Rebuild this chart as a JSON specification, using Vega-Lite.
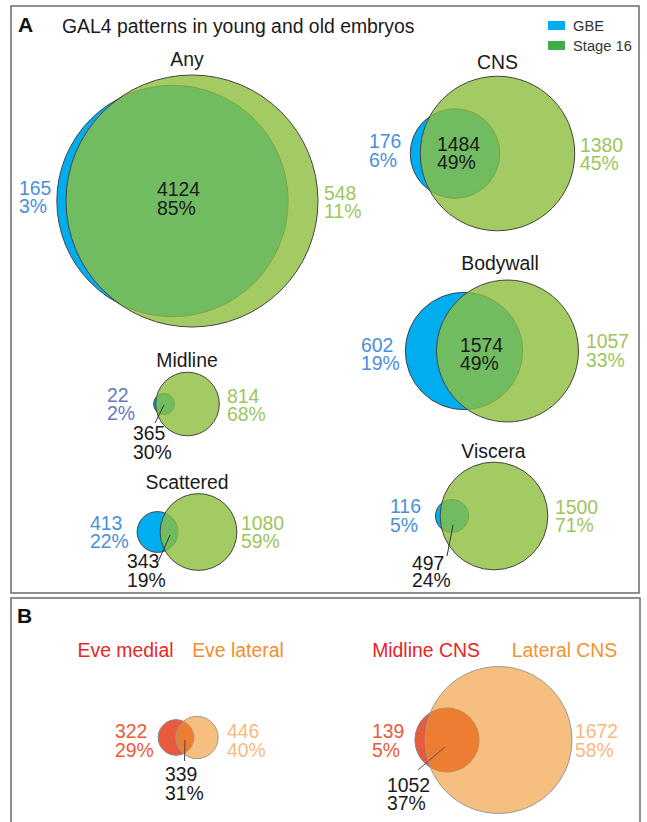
{
"$schema": "https://vega.github.io/schema/vega-lite/v6.json",
"width": 647, "height": 822, "padding": 0, "autosize": {"type": "none"},
"background": "#ffffff",
"config": {"view": {"stroke": null}, "text": {"font": "Liberation Sans", "fontSize": 19.4, "baseline": "alphabetic", "align": "left"}},
"datasets": {
"venn": [
{"panel":"Any","region":"left","set":"GBE","count":165,"pct":0.03,"total":4289},
{"panel":"Any","region":"both","set":"GBE and Stage 16","count":4124,"pct":0.85},
{"panel":"Any","region":"right","set":"Stage 16","count":548,"pct":0.11,"total":4672},
{"panel":"CNS","region":"left","set":"GBE","count":176,"pct":0.06,"total":1660},
{"panel":"CNS","region":"both","set":"GBE and Stage 16","count":1484,"pct":0.49},
{"panel":"CNS","region":"right","set":"Stage 16","count":1380,"pct":0.45,"total":2864},
{"panel":"Bodywall","region":"left","set":"GBE","count":602,"pct":0.19,"total":2176},
{"panel":"Bodywall","region":"both","set":"GBE and Stage 16","count":1574,"pct":0.49},
{"panel":"Bodywall","region":"right","set":"Stage 16","count":1057,"pct":0.33,"total":2631},
{"panel":"Midline","region":"left","set":"GBE","count":22,"pct":0.02,"total":387},
{"panel":"Midline","region":"both","set":"GBE and Stage 16","count":365,"pct":0.30},
{"panel":"Midline","region":"right","set":"Stage 16","count":814,"pct":0.68,"total":1179},
{"panel":"Viscera","region":"left","set":"GBE","count":116,"pct":0.05,"total":613},
{"panel":"Viscera","region":"both","set":"GBE and Stage 16","count":497,"pct":0.24},
{"panel":"Viscera","region":"right","set":"Stage 16","count":1500,"pct":0.71,"total":1997},
{"panel":"Scattered","region":"left","set":"GBE","count":413,"pct":0.22,"total":756},
{"panel":"Scattered","region":"both","set":"GBE and Stage 16","count":343,"pct":0.19},
{"panel":"Scattered","region":"right","set":"Stage 16","count":1080,"pct":0.59,"total":1423},
{"panel":"Eve","region":"left","set":"Eve medial","count":322,"pct":0.29,"total":661},
{"panel":"Eve","region":"both","set":"Eve medial and lateral","count":339,"pct":0.31},
{"panel":"Eve","region":"right","set":"Eve lateral","count":446,"pct":0.40,"total":785},
{"panel":"CNS subsets","region":"left","set":"Midline CNS","count":139,"pct":0.05,"total":1191},
{"panel":"CNS subsets","region":"both","set":"Midline and Lateral CNS","count":1052,"pct":0.37},
{"panel":"CNS subsets","region":"right","set":"Lateral CNS","count":1672,"pct":0.58,"total":2724}
],
"panels": [{"panel":"A","title":"GAL4 patterns in young and old embryos"},{"panel":"B","title":""}],
"legend": [{"panel":"A","set":"GBE"},{"panel":"A","set":"Stage 16"}]
},
"data": {"name": "venn"},
"resolve": {"scale": {"x": "independent", "y": "independent"}},
"layer": [
{
"data": {"name": "panels"},
"transform": [{"filter": {"field": "panel", "equal": "A"}}],
"encoding": {
"x": {"field":"panel","type":"nominal","axis":null,"scale":{"type":"band","domain":["A"],"range":[11,639],"paddingInner":0,"paddingOuter":0}},
"y": {"field":"panel","type":"nominal","axis":null,"scale":{"type":"band","domain":["A"],"range":[6,593],"paddingInner":0,"paddingOuter":0}}
},
"layer": [
{"mark": {"type":"rect","filled":false,"stroke":"#6b6b6b","strokeWidth":1.5}},
{"mark": {"type":"text","dx":7,"dy":26,"fontSize":21,"fontWeight":"bold","color":"#111111"},
 "encoding": {"x": {"field":"panel","type":"nominal","bandPosition":0,"axis":null,"scale":{"type":"band","domain":["A"],"range":[11,639],"paddingInner":0,"paddingOuter":0}},
  "y": {"field":"panel","type":"nominal","bandPosition":0,"axis":null,"scale":{"type":"band","domain":["A"],"range":[6,593],"paddingInner":0,"paddingOuter":0}},
  "text": {"field":"panel","type":"nominal"}}},
{"mark": {"type":"text","dx":51,"dy":27,"color":"#1a1a1a"},
 "encoding": {"x": {"field":"panel","type":"nominal","bandPosition":0,"axis":null,"scale":{"type":"band","domain":["A"],"range":[11,639],"paddingInner":0,"paddingOuter":0}},
  "y": {"field":"panel","type":"nominal","bandPosition":0,"axis":null,"scale":{"type":"band","domain":["A"],"range":[6,593],"paddingInner":0,"paddingOuter":0}},
  "text": {"field":"title","type":"nominal"}}}
]
},
{
"data": {"name": "panels"},
"transform": [{"filter": {"field": "panel", "equal": "B"}}],
"encoding": {
"x": {"field":"panel","type":"nominal","axis":null,"scale":{"type":"band","domain":["B"],"range":[11,640],"paddingInner":0,"paddingOuter":0}},
"y": {"field":"panel","type":"nominal","axis":null,"scale":{"type":"band","domain":["B"],"range":[598,840],"paddingInner":0,"paddingOuter":0}}
},
"layer": [
{"mark": {"type":"rect","filled":false,"stroke":"#6b6b6b","strokeWidth":1.5}},
{"mark": {"type":"text","dx":6,"dy":25,"fontSize":21,"fontWeight":"bold","color":"#111111"},
 "encoding": {"x": {"field":"panel","type":"nominal","bandPosition":0,"axis":null,"scale":{"type":"band","domain":["B"],"range":[11,640],"paddingInner":0,"paddingOuter":0}},
  "y": {"field":"panel","type":"nominal","bandPosition":0,"axis":null,"scale":{"type":"band","domain":["B"],"range":[598,840],"paddingInner":0,"paddingOuter":0}},
  "text": {"field":"panel","type":"nominal"}}}
]
},
{
"data": {"name": "legend"},
"encoding": {
"x": {"field":"panel","type":"nominal","axis":null,"scale":{"type":"point","domain":["A"],"range":[548,548],"padding":0}},
"y": {"field":"set","type":"nominal","axis":null,"scale":{"type":"point","domain":["GBE","Stage 16"],"range":[25.5,45.5],"padding":0}}
},
"layer": [
{"mark": {"type":"point","shape":"M0,-4.5H17V4.5H0Z","size":4,"filled":true,"opacity":1,"strokeWidth":0},
 "encoding": {"color": {"field":"set","type":"nominal","legend":null,"scale":{"domain":["GBE","Stage 16"],"range":["#00AEEF","#3FAE4A"]}}}},
{"mark": {"type":"text","dx":25,"dy":5,"fontSize":14.7,"color":"#333333"},
 "encoding": {"text": {"field":"set","type":"nominal"}}}
]
},
{
"transform": [{"filter": {"field": "panel", "equal": "Any"}}],
"encoding": {
"x": {"field":"region","type":"nominal","axis":null,"scale":{"type":"point","domain":["left","both","right"],"range":[172.5,192],"padding":0}},
"y": {"field":"panel","type":"nominal","axis":null,"scale":{"type":"point","domain":["Any"],"range":[201,201],"padding":0}}
},
"layer": [
{"transform":[{"filter":{"field":"region","equal":"left"}}],"mark":{"type":"point","shape":"circle","filled":true,"opacity":1,"fill":"#00AEEF","stroke":"#444444","strokeWidth":1},"encoding":{"size":{"field":"total","type":"quantitative","legend":null,"scale":{"type":"pow","exponent":2,"domain":[0,4672],"range":[0,63504]}}}},
{"transform":[{"filter":{"field":"region","equal":"right"}}],"mark":{"type":"point","shape":"circle","filled":true,"opacity":1,"fill":"#8DBE3C","fillOpacity":0.8,"stroke":"#444444","strokeWidth":1},"encoding":{"size":{"field":"total","type":"quantitative","legend":null,"scale":{"type":"pow","exponent":2,"domain":[0,4672],"range":[0,63504]}}}},
{"transform":[{"filter":{"field":"region","equal":"left"}}],"mark":{"type":"text","dx":-153.5,"dy":-6,"color":"#4A90D9"},"encoding":{"text":{"field":"count","type":"quantitative","format":"d"}}},
{"transform":[{"filter":{"field":"region","equal":"left"}}],"mark":{"type":"text","dx":-153.5,"dy":12,"color":"#4A90D9"},"encoding":{"text":{"field":"pct","type":"quantitative","format":".0%"}}},
{"transform":[{"filter":{"field":"region","equal":"both"}}],"mark":{"type":"text","dx":-25.25,"dy":-5,"color":"#1a1a1a"},"encoding":{"text":{"field":"count","type":"quantitative","format":"d"}}},
{"transform":[{"filter":{"field":"region","equal":"both"}}],"mark":{"type":"text","dx":-25.25,"dy":14,"color":"#1a1a1a"},"encoding":{"text":{"field":"pct","type":"quantitative","format":".0%"}}},
{"transform":[{"filter":{"field":"region","equal":"right"}}],"mark":{"type":"text","dx":132,"dy":-1,"color":"#9DC55B"},"encoding":{"text":{"field":"count","type":"quantitative","format":"d"}}},
{"transform":[{"filter":{"field":"region","equal":"right"}}],"mark":{"type":"text","dx":132,"dy":17,"color":"#9DC55B"},"encoding":{"text":{"field":"pct","type":"quantitative","format":".0%"}}},
{"transform":[{"filter":{"field":"region","equal":"both"}}],"mark":{"type":"text","align":"center","dx":4.75,"dy":-135,"color":"#1a1a1a"},"encoding":{"text":{"field":"panel","type":"nominal"}}}
]
},
{
"transform": [{"filter": {"field": "panel", "equal": "CNS"}}],
"encoding": {
"x": {"field":"region","type":"nominal","axis":null,"scale":{"type":"point","domain":["left","both","right"],"range":[455,497.5],"padding":0}},
"y": {"field":"panel","type":"nominal","axis":null,"scale":{"type":"point","domain":["CNS"],"range":[153.5,153.5],"padding":0}}
},
"layer": [
{"transform":[{"filter":{"field":"region","equal":"left"}}],"mark":{"type":"point","shape":"circle","filled":true,"opacity":1,"fill":"#00AEEF","stroke":"#444444","strokeWidth":1},"encoding":{"size":{"field":"total","type":"quantitative","legend":null,"scale":{"type":"pow","exponent":2,"domain":[0,4672],"range":[0,63504]}}}},
{"transform":[{"filter":{"field":"region","equal":"right"}}],"mark":{"type":"point","shape":"circle","filled":true,"opacity":1,"fill":"#8DBE3C","fillOpacity":0.8,"stroke":"#444444","strokeWidth":1},"encoding":{"size":{"field":"total","type":"quantitative","legend":null,"scale":{"type":"pow","exponent":2,"domain":[0,4672],"range":[0,63504]}}}},
{"transform":[{"filter":{"field":"region","equal":"left"}}],"mark":{"type":"text","dx":-86,"dy":-5.5,"color":"#4A90D9"},"encoding":{"text":{"field":"count","type":"quantitative","format":"d"}}},
{"transform":[{"filter":{"field":"region","equal":"left"}}],"mark":{"type":"text","dx":-86,"dy":13.5,"color":"#4A90D9"},"encoding":{"text":{"field":"pct","type":"quantitative","format":".0%"}}},
{"transform":[{"filter":{"field":"region","equal":"both"}}],"mark":{"type":"text","dx":-39.25,"dy":-2.5,"color":"#1a1a1a"},"encoding":{"text":{"field":"count","type":"quantitative","format":"d"}}},
{"transform":[{"filter":{"field":"region","equal":"both"}}],"mark":{"type":"text","dx":-39.25,"dy":15.5,"color":"#1a1a1a"},"encoding":{"text":{"field":"pct","type":"quantitative","format":".0%"}}},
{"transform":[{"filter":{"field":"region","equal":"right"}}],"mark":{"type":"text","dx":82.5,"dy":-1.5,"color":"#9DC55B"},"encoding":{"text":{"field":"count","type":"quantitative","format":"d"}}},
{"transform":[{"filter":{"field":"region","equal":"right"}}],"mark":{"type":"text","dx":82.5,"dy":16.5,"color":"#9DC55B"},"encoding":{"text":{"field":"pct","type":"quantitative","format":".0%"}}},
{"transform":[{"filter":{"field":"region","equal":"both"}}],"mark":{"type":"text","align":"center","dx":21.25,"dy":-84.5,"color":"#1a1a1a"},"encoding":{"text":{"field":"panel","type":"nominal"}}}
]
},
{
"transform": [{"filter": {"field": "panel", "equal": "Bodywall"}}],
"encoding": {
"x": {"field":"region","type":"nominal","axis":null,"scale":{"type":"point","domain":["left","both","right"],"range":[464,507.5],"padding":0}},
"y": {"field":"panel","type":"nominal","axis":null,"scale":{"type":"point","domain":["Bodywall"],"range":[351,351],"padding":0}}
},
"layer": [
{"transform":[{"filter":{"field":"region","equal":"left"}}],"mark":{"type":"point","shape":"circle","filled":true,"opacity":1,"fill":"#00AEEF","stroke":"#444444","strokeWidth":1},"encoding":{"size":{"field":"total","type":"quantitative","legend":null,"scale":{"type":"pow","exponent":2,"domain":[0,4672],"range":[0,63504]}}}},
{"transform":[{"filter":{"field":"region","equal":"right"}}],"mark":{"type":"point","shape":"circle","filled":true,"opacity":1,"fill":"#8DBE3C","fillOpacity":0.8,"stroke":"#444444","strokeWidth":1},"encoding":{"size":{"field":"total","type":"quantitative","legend":null,"scale":{"type":"pow","exponent":2,"domain":[0,4672],"range":[0,63504]}}}},
{"transform":[{"filter":{"field":"region","equal":"left"}}],"mark":{"type":"text","dx":-103,"dy":1,"color":"#4A90D9"},"encoding":{"text":{"field":"count","type":"quantitative","format":"d"}}},
{"transform":[{"filter":{"field":"region","equal":"left"}}],"mark":{"type":"text","dx":-103,"dy":19,"color":"#4A90D9"},"encoding":{"text":{"field":"pct","type":"quantitative","format":".0%"}}},
{"transform":[{"filter":{"field":"region","equal":"both"}}],"mark":{"type":"text","dx":-25.75,"dy":1,"color":"#1a1a1a"},"encoding":{"text":{"field":"count","type":"quantitative","format":"d"}}},
{"transform":[{"filter":{"field":"region","equal":"both"}}],"mark":{"type":"text","dx":-25.75,"dy":19,"color":"#1a1a1a"},"encoding":{"text":{"field":"pct","type":"quantitative","format":".0%"}}},
{"transform":[{"filter":{"field":"region","equal":"right"}}],"mark":{"type":"text","dx":78.5,"dy":-3,"color":"#9DC55B"},"encoding":{"text":{"field":"count","type":"quantitative","format":"d"}}},
{"transform":[{"filter":{"field":"region","equal":"right"}}],"mark":{"type":"text","dx":78.5,"dy":16,"color":"#9DC55B"},"encoding":{"text":{"field":"pct","type":"quantitative","format":".0%"}}},
{"transform":[{"filter":{"field":"region","equal":"both"}}],"mark":{"type":"text","align":"center","dx":14.25,"dy":-81,"color":"#1a1a1a"},"encoding":{"text":{"field":"panel","type":"nominal"}}}
]
},
{
"transform": [{"filter": {"field": "panel", "equal": "Midline"}}],
"encoding": {
"x": {"field":"region","type":"nominal","axis":null,"scale":{"type":"point","domain":["left","both","right"],"range":[164,187.5],"padding":0}},
"y": {"field":"panel","type":"nominal","axis":null,"scale":{"type":"point","domain":["Midline"],"range":[404,404],"padding":0}}
},
"layer": [
{"transform":[{"filter":{"field":"region","equal":"left"}}],"mark":{"type":"point","shape":"circle","filled":true,"opacity":1,"fill":"#00AEEF","stroke":"#444444","strokeWidth":1},"encoding":{"size":{"field":"total","type":"quantitative","legend":null,"scale":{"type":"pow","exponent":2,"domain":[0,4672],"range":[0,63504]}}}},
{"transform":[{"filter":{"field":"region","equal":"right"}}],"mark":{"type":"point","shape":"circle","filled":true,"opacity":1,"fill":"#8DBE3C","fillOpacity":0.8,"stroke":"#444444","strokeWidth":1},"encoding":{"size":{"field":"total","type":"quantitative","legend":null,"scale":{"type":"pow","exponent":2,"domain":[0,4672],"range":[0,63504]}}}},
{"transform":[{"filter":{"field":"region","equal":"both"}}],"mark":{"type":"point","shape":"M-11.75,1L-20.75,19","size":4,"filled":false,"opacity":1,"color":"#333333","strokeWidth":1}},
{"transform":[{"filter":{"field":"region","equal":"left"}}],"mark":{"type":"text","dx":-57,"dy":-2,"color":"#6678C4"},"encoding":{"text":{"field":"count","type":"quantitative","format":"d"}}},
{"transform":[{"filter":{"field":"region","equal":"left"}}],"mark":{"type":"text","dx":-57,"dy":16,"color":"#6678C4"},"encoding":{"text":{"field":"pct","type":"quantitative","format":".0%"}}},
{"transform":[{"filter":{"field":"region","equal":"both"}}],"mark":{"type":"text","dx":-42.75,"dy":36,"color":"#1a1a1a"},"encoding":{"text":{"field":"count","type":"quantitative","format":"d"}}},
{"transform":[{"filter":{"field":"region","equal":"both"}}],"mark":{"type":"text","dx":-42.75,"dy":55,"color":"#1a1a1a"},"encoding":{"text":{"field":"pct","type":"quantitative","format":".0%"}}},
{"transform":[{"filter":{"field":"region","equal":"right"}}],"mark":{"type":"text","dx":39.5,"dy":-1,"color":"#9DC55B"},"encoding":{"text":{"field":"count","type":"quantitative","format":"d"}}},
{"transform":[{"filter":{"field":"region","equal":"right"}}],"mark":{"type":"text","dx":39.5,"dy":17,"color":"#9DC55B"},"encoding":{"text":{"field":"pct","type":"quantitative","format":".0%"}}},
{"transform":[{"filter":{"field":"region","equal":"both"}}],"mark":{"type":"text","align":"center","dx":11.25,"dy":-37,"color":"#1a1a1a"},"encoding":{"text":{"field":"panel","type":"nominal"}}}
]
},
{
"transform": [{"filter": {"field": "panel", "equal": "Viscera"}}],
"encoding": {
"x": {"field":"region","type":"nominal","axis":null,"scale":{"type":"point","domain":["left","both","right"],"range":[452,494],"padding":0}},
"y": {"field":"panel","type":"nominal","axis":null,"scale":{"type":"point","domain":["Viscera"],"range":[516,516],"padding":0}}
},
"layer": [
{"transform":[{"filter":{"field":"region","equal":"left"}}],"mark":{"type":"point","shape":"circle","filled":true,"opacity":1,"fill":"#00AEEF","stroke":"#444444","strokeWidth":1},"encoding":{"size":{"field":"total","type":"quantitative","legend":null,"scale":{"type":"pow","exponent":2,"domain":[0,4672],"range":[0,63504]}}}},
{"transform":[{"filter":{"field":"region","equal":"right"}}],"mark":{"type":"point","shape":"circle","filled":true,"opacity":1,"fill":"#8DBE3C","fillOpacity":0.8,"stroke":"#444444","strokeWidth":1},"encoding":{"size":{"field":"total","type":"quantitative","legend":null,"scale":{"type":"pow","exponent":2,"domain":[0,4672],"range":[0,63504]}}}},
{"transform":[{"filter":{"field":"region","equal":"both"}}],"mark":{"type":"point","shape":"M-20,9L-26,40","size":4,"filled":false,"opacity":1,"color":"#333333","strokeWidth":1}},
{"transform":[{"filter":{"field":"region","equal":"left"}}],"mark":{"type":"text","dx":-62,"dy":-3,"color":"#4A90D9"},"encoding":{"text":{"field":"count","type":"quantitative","format":"d"}}},
{"transform":[{"filter":{"field":"region","equal":"left"}}],"mark":{"type":"text","dx":-62,"dy":16,"color":"#4A90D9"},"encoding":{"text":{"field":"pct","type":"quantitative","format":".0%"}}},
{"transform":[{"filter":{"field":"region","equal":"both"}}],"mark":{"type":"text","dx":-61,"dy":54,"color":"#1a1a1a"},"encoding":{"text":{"field":"count","type":"quantitative","format":"d"}}},
{"transform":[{"filter":{"field":"region","equal":"both"}}],"mark":{"type":"text","dx":-61,"dy":71,"color":"#1a1a1a"},"encoding":{"text":{"field":"pct","type":"quantitative","format":".0%"}}},
{"transform":[{"filter":{"field":"region","equal":"right"}}],"mark":{"type":"text","dx":61,"dy":-2,"color":"#9DC55B"},"encoding":{"text":{"field":"count","type":"quantitative","format":"d"}}},
{"transform":[{"filter":{"field":"region","equal":"right"}}],"mark":{"type":"text","dx":61,"dy":16,"color":"#9DC55B"},"encoding":{"text":{"field":"pct","type":"quantitative","format":".0%"}}},
{"transform":[{"filter":{"field":"region","equal":"both"}}],"mark":{"type":"text","align":"center","dx":20.5,"dy":-58,"color":"#1a1a1a"},"encoding":{"text":{"field":"panel","type":"nominal"}}}
]
},
{
"transform": [{"filter": {"field": "panel", "equal": "Scattered"}}],
"encoding": {
"x": {"field":"region","type":"nominal","axis":null,"scale":{"type":"point","domain":["left","both","right"],"range":[157.5,198.5],"padding":0}},
"y": {"field":"panel","type":"nominal","axis":null,"scale":{"type":"point","domain":["Scattered"],"range":[532,532],"padding":0}}
},
"layer": [
{"transform":[{"filter":{"field":"region","equal":"left"}}],"mark":{"type":"point","shape":"circle","filled":true,"opacity":1,"fill":"#00AEEF","stroke":"#444444","strokeWidth":1},"encoding":{"size":{"field":"total","type":"quantitative","legend":null,"scale":{"type":"pow","exponent":2,"domain":[0,4672],"range":[0,63504]}}}},
{"transform":[{"filter":{"field":"region","equal":"right"}}],"mark":{"type":"point","shape":"circle","filled":true,"opacity":1,"fill":"#8DBE3C","fillOpacity":0.8,"stroke":"#444444","strokeWidth":1},"encoding":{"size":{"field":"total","type":"quantitative","legend":null,"scale":{"type":"pow","exponent":2,"domain":[0,4672],"range":[0,63504]}}}},
{"transform":[{"filter":{"field":"region","equal":"both"}}],"mark":{"type":"point","shape":"M-8,3L-20,30","size":4,"filled":false,"opacity":1,"color":"#333333","strokeWidth":1}},
{"transform":[{"filter":{"field":"region","equal":"left"}}],"mark":{"type":"text","dx":-67.5,"dy":-2,"color":"#4A90D9"},"encoding":{"text":{"field":"count","type":"quantitative","format":"d"}}},
{"transform":[{"filter":{"field":"region","equal":"left"}}],"mark":{"type":"text","dx":-67.5,"dy":16,"color":"#4A90D9"},"encoding":{"text":{"field":"pct","type":"quantitative","format":".0%"}}},
{"transform":[{"filter":{"field":"region","equal":"both"}}],"mark":{"type":"text","dx":-51,"dy":36,"color":"#1a1a1a"},"encoding":{"text":{"field":"count","type":"quantitative","format":"d"}}},
{"transform":[{"filter":{"field":"region","equal":"both"}}],"mark":{"type":"text","dx":-51,"dy":55,"color":"#1a1a1a"},"encoding":{"text":{"field":"pct","type":"quantitative","format":".0%"}}},
{"transform":[{"filter":{"field":"region","equal":"right"}}],"mark":{"type":"text","dx":42.5,"dy":-2,"color":"#9DC55B"},"encoding":{"text":{"field":"count","type":"quantitative","format":"d"}}},
{"transform":[{"filter":{"field":"region","equal":"right"}}],"mark":{"type":"text","dx":42.5,"dy":16,"color":"#9DC55B"},"encoding":{"text":{"field":"pct","type":"quantitative","format":".0%"}}},
{"transform":[{"filter":{"field":"region","equal":"both"}}],"mark":{"type":"text","align":"center","dx":9,"dy":-43,"color":"#1a1a1a"},"encoding":{"text":{"field":"panel","type":"nominal"}}}
]
},
{
"transform": [{"filter": {"field": "panel", "equal": "Eve"}}],
"encoding": {
"x": {"field":"region","type":"nominal","axis":null,"scale":{"type":"point","domain":["left","both","right"],"range":[176,197],"padding":0}},
"y": {"field":"panel","type":"nominal","axis":null,"scale":{"type":"point","domain":["Eve"],"range":[737.5,737.5],"padding":0}}
},
"layer": [
{"transform":[{"filter":{"field":"region","equal":"left"}}],"mark":{"type":"point","shape":"circle","filled":true,"opacity":1,"fill":"#E85A3C","stroke":"#888888","strokeWidth":1},"encoding":{"size":{"field":"total","type":"quantitative","legend":null,"scale":{"type":"pow","exponent":2,"domain":[0,4672],"range":[0,63504]}}}},
{"transform":[{"filter":{"field":"region","equal":"right"}}],"mark":{"type":"point","shape":"circle","filled":true,"opacity":1,"fill":"#F0942B","fillOpacity":0.6,"stroke":"#999999","strokeWidth":1},"encoding":{"size":{"field":"total","type":"quantitative","legend":null,"scale":{"type":"pow","exponent":2,"domain":[0,4672],"range":[0,63504]}}}},
{"transform":[{"filter":{"field":"region","equal":"both"}}],"mark":{"type":"point","shape":"M-1.5,2.5L-2,23.5","size":4,"filled":false,"opacity":1,"color":"#444444","strokeWidth":1}},
{"transform":[{"filter":{"field":"region","equal":"left"}}],"mark":{"type":"text","dx":-61,"dy":0.5,"color":"#EE5A3A"},"encoding":{"text":{"field":"count","type":"quantitative","format":"d"}}},
{"transform":[{"filter":{"field":"region","equal":"left"}}],"mark":{"type":"text","dx":-61,"dy":19.5,"color":"#EE5A3A"},"encoding":{"text":{"field":"pct","type":"quantitative","format":".0%"}}},
{"transform":[{"filter":{"field":"region","equal":"both"}}],"mark":{"type":"text","dx":-21.5,"dy":43.5,"color":"#1a1a1a"},"encoding":{"text":{"field":"count","type":"quantitative","format":"d"}}},
{"transform":[{"filter":{"field":"region","equal":"both"}}],"mark":{"type":"text","dx":-21.5,"dy":62.5,"color":"#1a1a1a"},"encoding":{"text":{"field":"pct","type":"quantitative","format":".0%"}}},
{"transform":[{"filter":{"field":"region","equal":"right"}}],"mark":{"type":"text","dx":30,"dy":0.5,"color":"#F8B97E"},"encoding":{"text":{"field":"count","type":"quantitative","format":"d"}}},
{"transform":[{"filter":{"field":"region","equal":"right"}}],"mark":{"type":"text","dx":30,"dy":19.5,"color":"#F8B97E"},"encoding":{"text":{"field":"pct","type":"quantitative","format":".0%"}}},
{"transform":[{"filter":{"field":"region","equal":"left"}}],"mark":{"type":"text","align":"center","dx":-50.5,"dy":-80.5,"color":"#E8281F"},"encoding":{"text":{"field":"set","type":"nominal"}}},
{"transform":[{"filter":{"field":"region","equal":"right"}}],"mark":{"type":"text","align":"center","dx":41,"dy":-80.5,"color":"#F68B2E"},"encoding":{"text":{"field":"set","type":"nominal"}}}
]
},
{
"transform": [{"filter": {"field": "panel", "equal": "CNS subsets"}}],
"encoding": {
"x": {"field":"region","type":"nominal","axis":null,"scale":{"type":"point","domain":["left","both","right"],"range":[447,498.5],"padding":0}},
"y": {"field":"panel","type":"nominal","axis":null,"scale":{"type":"point","domain":["CNS subsets"],"range":[740,740],"padding":0}}
},
"layer": [
{"transform":[{"filter":{"field":"region","equal":"left"}}],"mark":{"type":"point","shape":"circle","filled":true,"opacity":1,"fill":"#E85A3C","stroke":"#888888","strokeWidth":1},"encoding":{"size":{"field":"total","type":"quantitative","legend":null,"scale":{"type":"pow","exponent":2,"domain":[0,4672],"range":[0,63504]}}}},
{"transform":[{"filter":{"field":"region","equal":"right"}}],"mark":{"type":"point","shape":"circle","filled":true,"opacity":1,"fill":"#F0942B","fillOpacity":0.6,"stroke":"#999999","strokeWidth":1},"encoding":{"size":{"field":"total","type":"quantitative","legend":null,"scale":{"type":"pow","exponent":2,"domain":[0,4672],"range":[0,63504]}}}},
{"transform":[{"filter":{"field":"region","equal":"both"}}],"mark":{"type":"point","shape":"M-27.75,7L-54.75,30","size":4,"filled":false,"opacity":1,"color":"#555555","strokeWidth":1}},
{"transform":[{"filter":{"field":"region","equal":"left"}}],"mark":{"type":"text","dx":-75,"dy":-2,"color":"#EE5A3A"},"encoding":{"text":{"field":"count","type":"quantitative","format":"d"}}},
{"transform":[{"filter":{"field":"region","equal":"left"}}],"mark":{"type":"text","dx":-75,"dy":17,"color":"#EE5A3A"},"encoding":{"text":{"field":"pct","type":"quantitative","format":".0%"}}},
{"transform":[{"filter":{"field":"region","equal":"both"}}],"mark":{"type":"text","dx":-85.75,"dy":52,"color":"#1a1a1a"},"encoding":{"text":{"field":"count","type":"quantitative","format":"d"}}},
{"transform":[{"filter":{"field":"region","equal":"both"}}],"mark":{"type":"text","dx":-85.75,"dy":70,"color":"#1a1a1a"},"encoding":{"text":{"field":"pct","type":"quantitative","format":".0%"}}},
{"transform":[{"filter":{"field":"region","equal":"right"}}],"mark":{"type":"text","dx":76.5,"dy":-2,"color":"#F8B97E"},"encoding":{"text":{"field":"count","type":"quantitative","format":"d"}}},
{"transform":[{"filter":{"field":"region","equal":"right"}}],"mark":{"type":"text","dx":76.5,"dy":17,"color":"#F8B97E"},"encoding":{"text":{"field":"pct","type":"quantitative","format":".0%"}}},
{"transform":[{"filter":{"field":"region","equal":"left"}}],"mark":{"type":"text","align":"center","dx":-21,"dy":-83,"color":"#E8231F"},"encoding":{"text":{"field":"set","type":"nominal"}}},
{"transform":[{"filter":{"field":"region","equal":"right"}}],"mark":{"type":"text","align":"center","dx":66,"dy":-83,"color":"#F5922F"},"encoding":{"text":{"field":"set","type":"nominal"}}}
]
}
]
}
